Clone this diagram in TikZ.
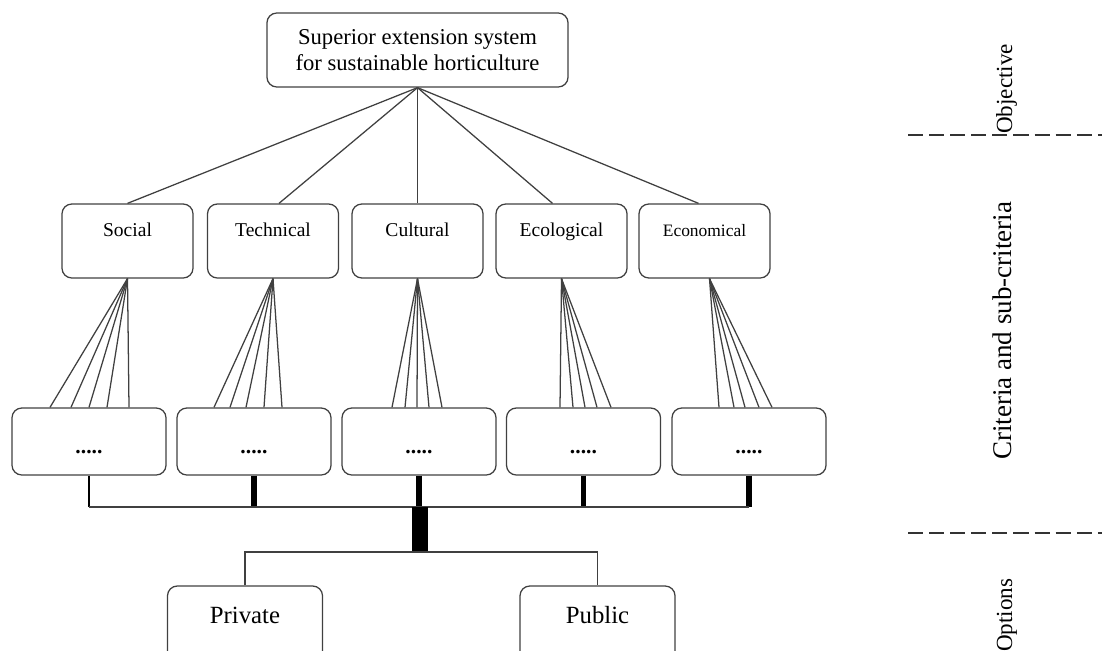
\documentclass[tikz,border=0pt]{standalone}
\usepackage{fontspec}
\setmainfont{Liberation Serif}
\usetikzlibrary{calc}
\begin{document}
\begin{tikzpicture}[x = 0.025cm, y = -0.025cm,
box/.style = {draw = black!75, line width = 0.9pt, rounded corners = 7pt, inner sep = 0pt, align = center},
crit/.style = {box, minimum width = 3.275cm, minimum height = 1.85cm, text height = 10pt, text depth = 17pt, font = \fontsize{13.9pt}{16pt}\selectfont},
sub/.style = {box, minimum width = 3.85cm, minimum height = 1.675cm, text height = 17.8pt, font = \bfseries\fontsize{15.4pt}{17pt}\selectfont},
option/.style = {box, minimum width = 3.875cm, minimum height = 2.2cm, text height = 12pt, text depth = 21pt, font = \fontsize{17.6pt}{20pt}\selectfont},
link/.style = {draw = black!75, line width = 0.9pt},
stub/.style = {draw = black, line width = 3.6pt},
level/.style = {rotate = 90, inner sep = 0pt, anchor = base west},
dashline/.style = {draw = black!80, line width = 1.3pt, dash pattern = on 10.7pt off 4.3pt}]
\useasboundingbox (0,0) rectangle (1102,650);
\clip (0,0) rectangle (1102,650);
%objective
\node [box, minimum width = 7.525cm, minimum height = 1.85cm, font = \fontsize{16.1pt}{18.5pt}\selectfont] (goal) at (417.5,50) {Superior extension system\\for sustainable horticulture};
%criteria
\node [crit] (social) at (127.5,241) {Social};
\node [crit] (technical) at (273,241) {Technical};
\node [crit] (cultural) at (417.5,241) {Cultural};
\node [crit] (ecological) at (561.5,241) {Ecological};
\node [crit, font = \fontsize{12.4pt}{14pt}\selectfont] (economical) at (704.5,241) {Economical};
%sub-criteria
\node [sub] (subsocial) at (89,441.5) {.....};
\node [sub] (subtechnical) at (254,441.5) {.....};
\node [sub] (subcultural) at (419,441.5) {.....};
\node [sub] (subecological) at (583.5,441.5) {.....};
\node [sub] (subeconomical) at (749,441.5) {.....};
%options
\node [option] (private) at (245,630) {Private};
\node [option] (public) at (597.5,630) {Public};
%objective to criteria
\draw [link] (goal.south) -- (social.north);
\draw [link] (goal.south) -- ($(technical.north)+(6,0)$);
\draw [link] (goal.south) -- (cultural.north);
\draw [link] (goal.south) -- ($(ecological.north)+(-9,0)$);
\draw [link] (goal.south) -- ($(economical.north)+(-6,0)$);
%criteria to sub-criteria
\draw [link] (social.south) -- ($(subsocial.north)+(-39,0)$);
\draw [link] (social.south) -- ($(subsocial.north)+(-18,0)$);
\draw [link] (social.south) -- ($(subsocial.north)+(0,0)$);
\draw [link] (social.south) -- ($(subsocial.north)+(18,0)$);
\draw [link] (social.south) -- ($(subsocial.north)+(40,0)$);
\draw [link] (technical.south) -- ($(subtechnical.north)+(-40,0)$);
\draw [link] (technical.south) -- ($(subtechnical.north)+(-24,0)$);
\draw [link] (technical.south) -- ($(subtechnical.north)+(-8,0)$);
\draw [link] (technical.south) -- ($(subtechnical.north)+(10,0)$);
\draw [link] (technical.south) -- ($(subtechnical.north)+(28,0)$);
\draw [link] (cultural.south) -- ($(subcultural.north)+(-27,0)$);
\draw [link] (cultural.south) -- ($(subcultural.north)+(-14,0)$);
\draw [link] (cultural.south) -- ($(subcultural.north)+(-2,0)$);
\draw [link] (cultural.south) -- ($(subcultural.north)+(10,0)$);
\draw [link] (cultural.south) -- ($(subcultural.north)+(23,0)$);
\draw [link] (ecological.south) -- ($(subecological.north)+(-23.5,0)$);
\draw [link] (ecological.south) -- ($(subecological.north)+(-10.5,0)$);
\draw [link] (ecological.south) -- ($(subecological.north)+(1.5,0)$);
\draw [link] (ecological.south) -- ($(subecological.north)+(13.5,0)$);
\draw [link] (ecological.south) -- ($(subecological.north)+(27.5,0)$);
\coordinate (econapex) at ($(economical.south)+(5,0)$);
\draw [link] (econapex) -- ($(subeconomical.north)+(-30,0)$);
\draw [link] (econapex) -- ($(subeconomical.north)+(-15,0)$);
\draw [link] (econapex) -- ($(subeconomical.north)+(-4,0)$);
\draw [link] (econapex) -- ($(subeconomical.north)+(10,0)$);
\draw [link] (econapex) -- ($(subeconomical.north)+(23,0)$);
%bus to options
\coordinate (bus) at (420,507);
\coordinate (split) at (420,552);
\draw [stub, line width = 2.1pt] (subsocial.south) -- (subsocial.south |- bus);
\draw [stub] (subtechnical.south) -- (subtechnical.south |- bus);
\draw [stub] (subcultural.south) -- (subcultural.south |- bus);
\draw [stub] (subecological.south) -- (subecological.south |- bus);
\draw [stub] (subeconomical.south) -- (subeconomical.south |- bus);
\draw [link] (subsocial.south |- bus) -- (subeconomical.south |- bus);
\draw [draw = black, line width = 10.7pt] (bus) -- (split);
\draw [link] (private.north) |- (split) -| (public.north);
%levels
\draw [dashline] (908,135) -- (1102,135);
\draw [dashline] (908,533) -- (1102,533);
\node [level, font = \fontsize{16.4pt}{18pt}\selectfont] (objective) at (1012,134) {Objective};
\node [level, font = \fontsize{19.2pt}{22pt}\selectfont] (criteria) at (1011,460) {Criteria and sub-criteria};
\node [level, font = \fontsize{16.4pt}{18pt}\selectfont] (options) at (1012,652) {Options};
\end{tikzpicture}
\end{document}
